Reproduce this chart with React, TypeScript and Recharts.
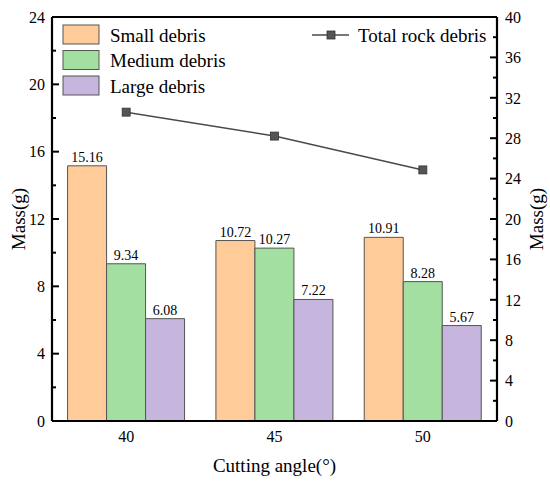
import React from 'react';
import {
  ComposedChart,
  Bar,
  Line,
  XAxis,
  YAxis,
  Legend,
  LabelList,
  ReferenceLine,
} from 'recharts';

const categories = ['40', '45', '50'];
const smallDebris = [15.16, 10.72, 10.91];
const mediumDebris = [9.34, 10.27, 8.28];
const largeDebris = [6.08, 7.22, 5.67];
const totalDebris = [30.58, 28.21, 24.86];

const leftTicks = [0, 2, 4, 6, 8, 10, 12, 14, 16, 18, 20, 22, 24];
const rightTicks = [0, 2, 4, 6, 8, 10, 12, 14, 16, 18, 20, 22, 24, 26, 28, 30, 32, 34, 36, 38, 40];
const barOrder = ['Small debris', 'Medium debris', 'Large debris'];

const data = categories.map((c, i) => ({
  angle: c,
  small: smallDebris[i],
  medium: mediumDebris[i],
  large: largeDebris[i],
  total: totalDebris[i],
}));

const FONT = '"Liberation Serif", "Times New Roman", Times, serif';
const fontStyle = { fontFamily: FONT };

const LeftTick = (props: any) => {
  const { x, y, payload } = props;
  const v = payload.value;
  const major = v % 4 === 0;
  return (
    <g>
      <line x1={x} x2={x + (major ? 7 : 4)} y1={y} y2={y} stroke="#000" strokeWidth={2} />
      {major && (
        <text x={x - 7} y={y} dy="0.36em" textAnchor="end" fontSize={16} style={fontStyle} fill="#000">
          {v}
        </text>
      )}
    </g>
  );
};

const RightTick = (props: any) => {
  const { x, y, payload } = props;
  const v = payload.value;
  const major = v % 4 === 0;
  return (
    <g>
      <line x1={x} x2={x - (major ? 7 : 4)} y1={y} y2={y} stroke="#000" strokeWidth={2} />
      {major && (
        <text x={x + 8} y={y} dy="0.36em" textAnchor="start" fontSize={16} style={fontStyle} fill="#000">
          {v}
        </text>
      )}
    </g>
  );
};

const XTick = (props: any) => {
  const { x, y, payload } = props;
  return (
    <text x={x} y={y} dy="0.71em" textAnchor="middle" fontSize={16} style={fontStyle} fill="#000">
      {payload.value}
    </text>
  );
};

const renderLegend = (props: any) => {
  const payload = props.payload || [];
  const bars = barOrder
    .map((n) => payload.find((p: any) => p.value === n))
    .filter(Boolean);
  const lines = payload.filter((p: any) => p.type === 'line');
  return (
    <svg width={550} height={110} style={{ display: 'block' }}>
      {bars.map((p: any, i: number) => (
        <g key={p.value}>
          <rect x={63} y={25 + i * 25.5} width={36} height={19} fill={p.color} stroke="#555" strokeWidth={1} />
          <text x={110} y={35 + i * 25.5} dy="0.36em" fontSize={19} style={fontStyle} fill="#000">
            {p.value}
          </text>
        </g>
      ))}
      {lines.map((p: any) => (
        <g key={p.value}>
          <line x1={312} x2={349} y1={35} y2={35} stroke={p.color} strokeWidth={1.5} />
          <rect x={327} y={31} width={8} height={8} fill="#555" stroke="#333" strokeWidth={0.8} />
          <text x={358} y={35} dy="0.36em" fontSize={19} style={fontStyle} fill="#000">
            {p.value}
          </text>
        </g>
      ))}
    </svg>
  );
};

const SquareDot = (props: any) => {
  const { cx, cy } = props;
  if (cx == null || cy == null) return null;
  return <rect x={cx - 4} y={cy - 4} width={8} height={8} fill="#555" stroke="#333" strokeWidth={0.8} />;
};

const BarLabel = (props: any) => {
  const { x, y, width, value } = props;
  return (
    <text x={x + width / 2} y={y - 4} textAnchor="middle" fontSize={14} style={fontStyle} fill="#000">
      {value}
    </text>
  );
};

export default function App() {
  return (
    <div style={{ position: 'absolute', left: 0, top: 0, width: 550, height: 488, background: '#fff', fontFamily: FONT }}>
      <ComposedChart
        width={550}
        height={488}
        data={data}
        margin={{ top: 17, right: 0, bottom: 0, left: 0 }}
        barCategoryGap="10.5%"
        barGap={0}
      >
        <XAxis
          dataKey="angle"
          height={67}
          tickLine={false}
          tickSize={0}
          tickMargin={10}
          axisLine={{ stroke: '#000', strokeWidth: 2.2 }}
          tick={<XTick />}
          label={{
            content: (p: any) => {
              const vb = p.viewBox;
              return (
                <text x={vb.x + vb.width / 2} y={472} textAnchor="middle" fontSize={19} style={fontStyle} fill="#000">
                  Cutting angle(°)
                </text>
              );
            },
          }}
        />
        <YAxis
          yAxisId="left"
          orientation="left"
          width={52}
          domain={[0, 24]}
          ticks={leftTicks}
          interval={0}
          tickLine={false}
          tickSize={0}
          tickMargin={0}
          axisLine={{ stroke: '#000', strokeWidth: 2.2 }}
          tick={<LeftTick />}
          label={{
            content: (p: any) => {
              const vb = p.viewBox;
              const cy = vb.y + vb.height / 2;
              return (
                <text x={25} y={cy} transform={`rotate(-90, 25, ${cy})`} textAnchor="middle" fontSize={19} style={fontStyle} fill="#000">
                  Mass(g)
                </text>
              );
            },
          }}
        />
        <YAxis
          yAxisId="right"
          orientation="right"
          width={53}
          domain={[0, 40]}
          ticks={rightTicks}
          interval={0}
          tickLine={false}
          tickSize={0}
          tickMargin={0}
          axisLine={{ stroke: '#000', strokeWidth: 2.2 }}
          tick={<RightTick />}
          label={{
            content: (p: any) => {
              const vb = p.viewBox;
              const cy = vb.y + vb.height / 2;
              return (
                <text x={543} y={cy} transform={`rotate(-90, 543, ${cy})`} textAnchor="middle" fontSize={19} style={fontStyle} fill="#000">
                  Mass(g)
                </text>
              );
            },
          }}
        />
        <ReferenceLine yAxisId="left" y={24} stroke="#000" strokeWidth={2.2} />
        <Legend
          layout="vertical"
          verticalAlign="middle"
          align="center"
          content={renderLegend}
          wrapperStyle={{ position: 'absolute', left: 0, top: 0, width: 550, height: 110 }}
        />
        <Bar yAxisId="left" dataKey="small" name="Small debris" fill="#FFCC99" stroke="#555" strokeWidth={1} legendType="rect" isAnimationActive={false}>
          <LabelList dataKey="small" content={<BarLabel />} />
        </Bar>
        <Bar yAxisId="left" dataKey="medium" name="Medium debris" fill="#A3DFA0" stroke="#555" strokeWidth={1} legendType="rect" isAnimationActive={false}>
          <LabelList dataKey="medium" content={<BarLabel />} />
        </Bar>
        <Bar yAxisId="left" dataKey="large" name="Large debris" fill="#C6B5DC" stroke="#555" strokeWidth={1} legendType="rect" isAnimationActive={false}>
          <LabelList dataKey="large" content={<BarLabel />} />
        </Bar>
        <Line
          yAxisId="right"
          dataKey="total"
          name="Total rock debris"
          stroke="#4a4a4a"
          strokeWidth={1.5}
          legendType="line"
          dot={<SquareDot />}
          activeDot={false}
          isAnimationActive={false}
        />
      </ComposedChart>
    </div>
  );
}
